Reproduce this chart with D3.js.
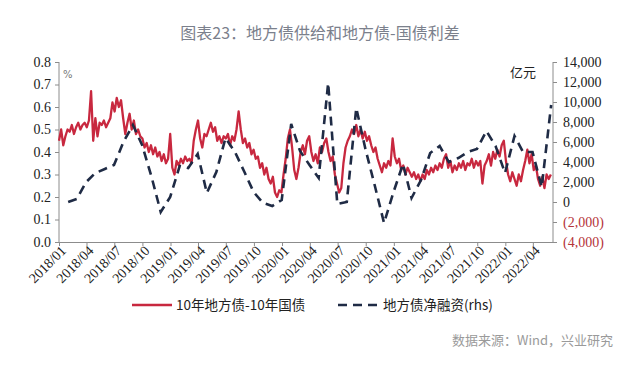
<!DOCTYPE html>
<html><head><meta charset="utf-8">
<script src="https://cdn.jsdelivr.net/npm/d3@7"></script>
<style>body{margin:0;background:#fff}svg{display:block}</style></head>
<body><svg id="c" width="640" height="373"></svg>
<script>
const chartTitle = "图表23：地方债供给和地方债-国债利差";
const sourceText = "数据来源：Wind，兴业研究";
const seriesNames = ["10年地方债-10年国债", "地方债净融资(rhs)"];
const leftUnit = "%";
const rightUnit = "亿元";
const leftTicks = [0, 0.1, 0.2, 0.3, 0.4, 0.5, 0.6, 0.7, 0.8];
const rightTicks = [-4000, -2000, 0, 2000, 4000, 6000, 8000, 10000, 12000, 14000];
const xStart = "2018-01-01", xEnd = "2022-06-06";
const tickMonths = ["2018/01","2018/04","2018/07","2018/10","2019/01","2019/04","2019/07","2019/10","2020/01","2020/04","2020/07","2020/10","2021/01","2021/04","2021/07","2021/10","2022/01","2022/04"];

// weekly spread readings (%), from 2018-01-01
const spreadStart = "2018-01-01";
const spreadValues = [
0.45,0.50,0.43,0.47,0.50,0.49,0.52,0.48,0.51,0.53,
0.50,0.52,0.53,0.51,0.54,0.67,0.45,0.55,0.47,0.53,
0.52,0.54,0.51,0.53,0.55,0.62,0.58,0.64,0.60,0.63,
0.55,0.48,0.53,0.57,0.50,0.54,0.48,0.50,0.47,0.46,
0.42,0.44,0.40,0.43,0.39,0.42,0.38,0.40,0.36,0.39,
0.35,0.37,0.48,0.33,0.30,0.36,0.34,0.37,0.35,0.38,
0.36,0.37,0.35,0.45,0.50,0.54,0.46,0.42,0.48,0.47,
0.50,0.53,0.49,0.51,0.45,0.47,0.44,0.47,0.46,0.48,
0.43,0.47,0.45,0.50,0.58,0.50,0.44,0.46,0.42,0.44,
0.39,0.41,0.37,0.38,0.33,0.35,0.30,0.33,0.28,0.26,
0.29,0.22,0.20,0.23,0.22,0.30,0.37,0.46,0.50,0.42,
0.32,0.28,0.33,0.40,0.43,0.39,0.45,0.47,0.40,0.36,
0.39,0.35,0.42,0.40,0.44,0.46,0.40,0.36,0.38,0.30,
0.26,0.22,0.24,0.35,0.42,0.45,0.47,0.50,0.48,0.52,
0.47,0.50,0.46,0.49,0.45,0.47,0.43,0.40,0.42,0.37,
0.34,0.31,0.35,0.33,0.36,0.34,0.46,0.38,0.35,0.37,
0.32,0.34,0.30,0.33,0.31,0.29,0.31,0.28,0.30,0.27,
0.30,0.28,0.32,0.30,0.33,0.31,0.34,0.32,0.35,0.33,
0.37,0.39,0.33,0.36,0.31,0.34,0.32,0.35,0.33,0.36,
0.32,0.35,0.34,0.37,0.33,0.36,0.34,0.36,0.26,0.34,
0.36,0.39,0.34,0.40,0.37,0.41,0.38,0.43,0.45,0.36,
0.30,0.27,0.31,0.28,0.25,0.30,0.27,0.32,0.36,0.41,
0.35,0.39,0.32,0.34,0.28,0.25,0.29,0.24,0.30,0.28,
0.30
];

// monthly net financing (亿元), 2018/01 .. 2022/05, plotted at month end
const financingStart = "2018-01";
const financingValues = [
0, 300, 2000, 2900, 3300, 3700, 6000, 7700, 5700, 2500,
-1000, 500, 3600, 3400, 4800, 900, 3000, 6400, 5000, 3000,
1000, -100, -400, 200, 7800, 5100, 3700, 2400, 11900, -200,
0, 9400, 5300, 1600, -2100, 1000, 3800, 400, 2200, 4900,
5600, 4000, 4400, 5000, 5300, 7100, 5600, 2900, 6600, 5000,
5000, 1500, 9700
];

const colors = { spread: "#c8283f", financing: "#1f2b45", neg: "#b5343a", axis: "#8c8c8c", text: "#222", title: "#7b808c", source: "#9a9a9a" };

const svg = d3.select("#c");
const M = { left: 59, right: 553, top: 62, bottom: 242 };

const parse = d3.timeParse("%Y-%m-%d");
const x = d3.scaleTime().domain([parse(xStart), parse(xEnd)]).range([M.left, M.right]);
const yL = d3.scaleLinear().domain([0, 0.8]).range([M.bottom, M.top]);
const yR = d3.scaleLinear().domain([-4000, 14000]).range([M.bottom, M.top]);

// title
svg.append("text").attr("x", 320).attr("y", 39).attr("text-anchor", "middle")
  .attr("font-family", "'Noto Sans CJK SC', sans-serif").attr("font-size", 16)
  .attr("fill", colors.title).text(chartTitle);

const serif = "'Liberation Serif', 'Times New Roman', serif";

// left axis
const gL = svg.append("g").attr("transform", `translate(${M.left},0)`)
  .call(d3.axisLeft(yL).tickValues(leftTicks).tickFormat(d3.format(".1f")).tickSize(4).tickPadding(4));
// right axis
const fmtR = d => d < 0 ? "(" + d3.format(",")(-d) + ")" : d3.format(",")(d);
const gR = svg.append("g").attr("transform", `translate(${M.right},0)`)
  .call(d3.axisRight(yR).tickValues(rightTicks).tickFormat(fmtR).tickSize(4).tickPadding(6));
// x axis
const tickDates = tickMonths.map(s => d3.timeParse("%Y/%m")(s));
const gX = svg.append("g").attr("transform", `translate(0,${M.bottom})`)
  .call(d3.axisBottom(x).tickValues(tickDates).tickFormat(d3.timeFormat("%Y/%m")).tickSize(4).tickSizeOuter(0));

[gL, gR, gX].forEach(g => {
  g.selectAll(".domain").attr("stroke", colors.axis);
  g.selectAll(".tick line").attr("stroke", colors.axis);
  g.selectAll("text").attr("font-family", serif).attr("font-size", 14).attr("fill", colors.text);
});
gR.selectAll(".domain").attr("d", `M0,${M.top}V${M.bottom}`);
gL.selectAll(".domain").attr("d", `M0,${M.top}V${M.bottom}`);
gR.selectAll(".tick text").attr("fill", d => d < 0 ? colors.neg : colors.text);
gX.selectAll(".tick text").attr("text-anchor", "end")
  .attr("transform", "translate(4,6) rotate(-45)").attr("dy", "0.35em").attr("dx", 0).attr("y", 0).attr("x", 0);

// units
svg.append("text").attr("x", 63).attr("y", 78).attr("font-family", "'DejaVu Sans', sans-serif")
  .attr("font-size", 10).attr("fill", "#777").text(leftUnit);
svg.append("text").attr("x", 510).attr("y", 77).attr("font-family", "'Noto Sans CJK SC', sans-serif")
  .attr("font-size", 13).attr("fill", colors.text).text(rightUnit);

// spread line
const t0 = parse(spreadStart);
const spreadData = spreadValues.map((v, i) => ({ d: d3.timeDay.offset(t0, 7 * i), v }));
svg.append("path").datum(spreadData)
  .attr("fill", "none").attr("stroke", colors.spread).attr("stroke-width", 2.3)
  .attr("stroke-linejoin", "round")
  .attr("d", d3.line().x(d => x(d.d)).y(d => yL(d.v)));

// financing dashed line
const f0 = d3.timeParse("%Y-%m")(financingStart);
const finData = financingValues.map((v, i) => ({ d: d3.timeDay.offset(d3.timeMonth.offset(f0, i + 1), -1), v }));
svg.append("path").datum(finData)
  .attr("fill", "none").attr("stroke", colors.financing).attr("stroke-width", 2.6)
  .attr("stroke-dasharray", "9,6")
  .attr("d", d3.line().x(d => x(d.d)).y(d => yR(d.v)));

// legend
const lf = "'Noto Sans CJK SC', sans-serif";
svg.append("line").attr("x1", 132).attr("x2", 172).attr("y1", 305).attr("y2", 305)
  .attr("stroke", colors.spread).attr("stroke-width", 2.3);
svg.append("text").attr("x", 176).attr("y", 310).attr("font-family", lf).attr("font-size", 13.5)
  .attr("fill", colors.text).text(seriesNames[0]);
svg.append("line").attr("x1", 338).attr("x2", 379).attr("y1", 305).attr("y2", 305)
  .attr("stroke", colors.financing).attr("stroke-width", 2.6).attr("stroke-dasharray", "9,6");
svg.append("text").attr("x", 383).attr("y", 310).attr("font-family", lf).attr("font-size", 13.5)
  .attr("fill", colors.text).text(seriesNames[1]);

// source
svg.append("text").attr("x", 613).attr("y", 345).attr("text-anchor", "end")
  .attr("font-family", lf).attr("font-size", 13).attr("fill", colors.source).text(sourceText);
</script></body></html>
